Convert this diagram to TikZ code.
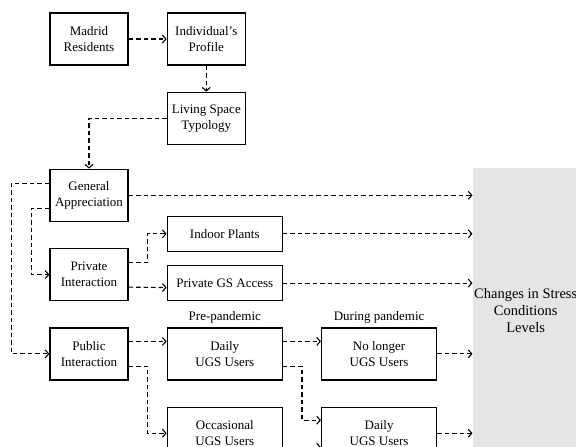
\documentclass[tikz,border=0pt]{standalone}
\usepackage{fontspec}
\setmainfont{Liberation Serif}
\usetikzlibrary{positioning,arrows.meta,calc}
\tikzset{
  box/.style={rectangle,draw=black,line width=1.3pt,minimum width=78pt,minimum height=52pt,
    align=center,inner sep=2pt},
  wbox/.style={box,minimum width=115pt},
  sbox/.style={wbox,minimum height=35pt},
  outbox/.style={rectangle,fill=black!10,minimum width=106pt,minimum height=284pt,
    align=center,inner sep=0pt,font=\fontsize{14.5}{17}\selectfont},
  flow/.style={-{Straight Barb[length=3.5pt,width=8pt]},line width=1.1pt,dash pattern=on 4.5pt off 3pt},
}

\begin{document}
\begin{tikzpicture}[font=\fontsize{13}{16}\selectfont,node distance=26pt and 38pt]
  \useasboundingbox (0,0) rectangle (576pt,447pt);
  \clip (0,0) rectangle (576pt,447pt);
  \node[box] (mr) at (89pt,408pt) {Madrid\\Residents};
  \node[box,right=of mr] (ip) {Individual’s\\Profile};
  \node[box,below=of ip] (lst) {Living Space\\Typology};
  \node[box,below=103pt of mr] (ga) {General\\Appreciation};
  \node[box,below=of ga] (pi) {Private\\Interaction};
  \node[box,below=of pi] (pu) {Public\\Interaction};
  \node[sbox,right=38pt of pi.south east,anchor=south west] (pgs) {Private GS Access};
  \node[sbox,above=13pt of pgs] (ind) {Indoor Plants};
  \node[wbox,right=of pu] (dpre) {Daily\\UGS Users};
  \node[wbox,below=of dpre] (occ) {Occasional\\UGS Users};
  \node[wbox,right=of dpre] (nl) {No longer\\UGS Users};
  \node[wbox,below=of nl] (ddur) {Daily\\UGS Users};
  \node[above=0pt of dpre] (lpre) {Pre-pandemic};
  \node[above=0pt of nl] (ldur) {During pandemic};
  \node[outbox,anchor=north west] (chg) at (472.5pt,279pt) {Changes in Stress\\Conditions\\Levels};

  % top chain
  \draw[flow] (mr) -- (ip);
  \draw[flow] (ip) -- (lst);
  \draw[flow] (lst) -| (ga);
  \draw[flow] ([yshift=-13pt]ga.west) -- ++(-18pt,0) |- (pi);
  \draw[flow] ([yshift=12pt]ga.west) -- ++(-38pt,0) |- (pu);
  \draw[flow] (ga.east) -- (ga.east -| chg.west);
  % private
  \draw[flow] ([yshift=12.5pt]pi.east) -- ++(19pt,0) |- (ind);
  \draw[flow] ($(pi.east)+(0,-12.5pt)$) -- ($(pgs.west)+(0,-4.5pt)$);
  \draw[flow] (ind) -- (ind -| chg.west);
  \draw[flow] (pgs) -- (pgs -| chg.west);
  % public
  \draw[flow] ([yshift=12.5pt]pu.east) -- ([yshift=12.5pt]dpre.west);
  \draw[flow] ([yshift=-12.5pt]pu.east) -- ++(19pt,0) |- (occ);
  \draw[flow] ([yshift=12.5pt]dpre.east) -- ([yshift=12.5pt]nl.west);
  \draw[flow] ([yshift=-12.5pt]dpre.east) -- ++(19pt,0) |- ([yshift=13pt]ddur.west);
  \draw[flow] ([yshift=-14pt]occ.east) -- ([yshift=-14pt]ddur.west);
  \draw[flow] (nl) -- (nl -| chg.west);
  \draw[flow] (ddur) -- (ddur -| chg.west);
\end{tikzpicture}
\end{document}
